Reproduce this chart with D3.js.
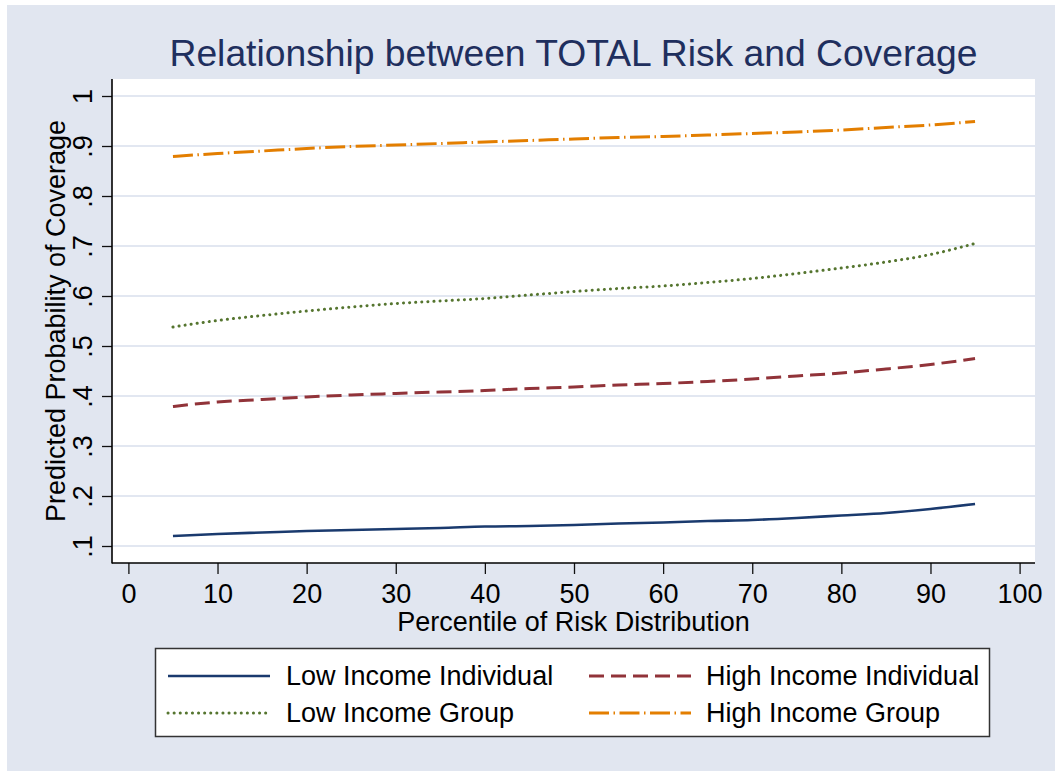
<!DOCTYPE html>
<html>
<head>
<meta charset="utf-8">
<script src="https://cdn.jsdelivr.net/npm/d3@7"></script>
<style>
  html, body { margin: 0; padding: 0; background: #ffffff; }
  svg { display: block; font-family: "Liberation Sans", Arial, sans-serif; }
</style>
</head>
<body>
<svg id="chart" width="1055" height="771"></svg>
<script>
// Percentile of the risk distribution at which predictions were made
const percentiles = [5, 10, 15, 20, 25, 30, 35, 40, 45, 50, 55, 60, 65, 70, 75, 80, 85, 90, 95];

// Predicted probability of coverage for each income / purchase type
const lowIncomeIndividual  = [0.120, 0.124, 0.127, 0.130, 0.132, 0.134, 0.136, 0.139, 0.140, 0.142, 0.145, 0.147, 0.150, 0.152, 0.156, 0.161, 0.166, 0.174, 0.184];
const highIncomeIndividual = [0.379, 0.388, 0.393, 0.398, 0.402, 0.405, 0.408, 0.411, 0.415, 0.418, 0.422, 0.425, 0.429, 0.434, 0.440, 0.446, 0.454, 0.463, 0.475];
const lowIncomeGroup       = [0.538, 0.551, 0.561, 0.570, 0.578, 0.585, 0.590, 0.595, 0.602, 0.609, 0.615, 0.620, 0.627, 0.635, 0.645, 0.656, 0.668, 0.683, 0.705];
const highIncomeGroup      = [0.879, 0.885, 0.890, 0.895, 0.899, 0.902, 0.905, 0.908, 0.911, 0.914, 0.917, 0.919, 0.922, 0.925, 0.928, 0.932, 0.937, 0.942, 0.949];

const seriesNames = ["Low Income Individual", "High Income Individual", "Low Income Group", "High Income Group"];

// Axis ticks
const xTicks = [0, 10, 20, 30, 40, 50, 60, 70, 80, 90, 100];
const yTicks = [0.1, 0.2, 0.3, 0.4, 0.5, 0.6, 0.7, 0.8, 0.9, 1];
const yTickLabels = [".1", ".2", ".3", ".4", ".5", ".6", ".7", ".8", ".9", "1"];

const titleText = "Relationship between TOTAL Risk and Coverage";
const xTitle = "Percentile of Risk Distribution";
const yTitle = "Predicted Probability of Coverage";

// Line styling per series (Stata s2color-like palette)
const styles = [
  { color: "#1a3a6e", width: 2.6, dash: null,        cap: "butt"  },
  { color: "#913339", width: 3,   dash: "15 7",      cap: "butt"  },
  { color: "#55752f", width: 3,   dash: "0.1 6",     cap: "round" },
  { color: "#e37e00", width: 3,   dash: "20 4.5 1.5 4.5", cap: "butt" }
];

const FONT = 27;

const svg = d3.select("#chart");

// Outer graph region
svg.append("rect")
  .attr("x", 7).attr("y", 5).attr("width", 1048).attr("height", 766)
  .attr("fill", "#e1e6f0");

// Plot region bounds
const plot = { left: 112, top: 79, right: 1035, bottom: 563 };

svg.append("rect")
  .attr("x", plot.left).attr("y", plot.top)
  .attr("width", plot.right - plot.left).attr("height", plot.bottom - plot.top)
  .attr("fill", "#ffffff");

const x = d3.scaleLinear().domain([0, 100]).range([128.4, 1019.6]);
const y = d3.scaleLinear().domain([0.1, 1]).range([546, 96]);

// Horizontal grid lines
svg.append("g")
  .selectAll("line")
  .data(yTicks)
  .join("line")
  .attr("x1", plot.left).attr("x2", plot.right)
  .attr("y1", d => y(d)).attr("y2", d => y(d))
  .attr("stroke", "#e2e7f1").attr("stroke-width", 2.2);

// Y axis
const yAxis = svg.append("g")
  .attr("transform", `translate(${plot.left},0)`)
  .call(d3.axisLeft(y).tickValues(yTicks).tickSize(10).tickPadding(0)
    .tickFormat((d, i) => yTickLabels[i]));
yAxis.select(".domain").remove();
yAxis.selectAll(".tick line").attr("stroke", "#111").attr("stroke-width", 1.3);
yAxis.selectAll(".tick text")
  .attr("x", null).attr("dy", null)
  .attr("transform", "translate(-20,0) rotate(-90)")
  .attr("text-anchor", "middle")
  .attr("font-size", FONT)
  .attr("fill", "#000");

// X axis
const xAxis = svg.append("g")
  .attr("transform", `translate(0,${plot.bottom})`)
  .call(d3.axisBottom(x).tickValues(xTicks).tickSize(11).tickPadding(0)
    .tickFormat(d3.format("d")));
xAxis.select(".domain").remove();
xAxis.selectAll(".tick line").attr("stroke", "#111").attr("stroke-width", 1.3);
xAxis.selectAll(".tick text")
  .attr("y", 40).attr("dy", null)
  .attr("font-size", FONT)
  .attr("fill", "#000");

// Axis lines
svg.append("line")
  .attr("x1", plot.left).attr("x2", plot.left)
  .attr("y1", plot.top).attr("y2", plot.bottom + 0.5)
  .attr("stroke", "#000").attr("stroke-width", 1.6);
svg.append("line")
  .attr("x1", plot.left).attr("x2", plot.right)
  .attr("y1", plot.bottom).attr("y2", plot.bottom)
  .attr("stroke", "#000").attr("stroke-width", 1.6);

// Series lines
const allSeries = [lowIncomeIndividual, highIncomeIndividual, lowIncomeGroup, highIncomeGroup];
const line = d3.line()
  .x((d, i) => x(percentiles[i]))
  .y(d => y(d))
  .curve(d3.curveMonotoneX);

svg.append("g")
  .selectAll("path")
  .data(allSeries)
  .join("path")
  .attr("d", d => line(d))
  .attr("fill", "none")
  .attr("stroke", (d, i) => styles[i].color)
  .attr("stroke-width", (d, i) => styles[i].width)
  .attr("stroke-dasharray", (d, i) => styles[i].dash)
  .attr("stroke-linecap", (d, i) => styles[i].cap);

// Titles
const cx = (plot.left + plot.right) / 2;
svg.append("text")
  .attr("x", cx).attr("y", 66)
  .attr("text-anchor", "middle")
  .attr("font-size", 37)
  .attr("textLength", 808).attr("lengthAdjust", "spacingAndGlyphs")
  .attr("fill", "#1f2f5e")
  .text(titleText);

svg.append("text")
  .attr("x", cx).attr("y", 631)
  .attr("text-anchor", "middle")
  .attr("font-size", FONT)
  .attr("fill", "#000")
  .text(xTitle);

svg.append("text")
  .attr("transform", `translate(65,${(plot.top + plot.bottom) / 2}) rotate(-90)`)
  .attr("text-anchor", "middle")
  .attr("font-size", FONT)
  .attr("fill", "#000")
  .text(yTitle);

// Legend
const legend = svg.append("g");
legend.append("rect")
  .attr("x", 155.5).attr("y", 648.5).attr("width", 834).attr("height", 88)
  .attr("fill", "#ffffff").attr("stroke", "#333").attr("stroke-width", 1.5);

const legendPos = [
  { sx: 168, tx: 286, cy: 676 },
  { sx: 589, tx: 706, cy: 676 },
  { sx: 168, tx: 286, cy: 713 },
  { sx: 589, tx: 706, cy: 713 }
];

const items = legend.selectAll("g.item")
  .data(seriesNames)
  .join("g").attr("class", "item");

items.append("line")
  .attr("x1", (d, i) => legendPos[i].sx)
  .attr("x2", (d, i) => legendPos[i].sx + 102)
  .attr("y1", (d, i) => legendPos[i].cy)
  .attr("y2", (d, i) => legendPos[i].cy)
  .attr("stroke", (d, i) => styles[i].color)
  .attr("stroke-width", (d, i) => styles[i].width)
  .attr("stroke-dasharray", (d, i) => styles[i].dash)
  .attr("stroke-linecap", (d, i) => styles[i].cap);

items.append("text")
  .attr("x", (d, i) => legendPos[i].tx)
  .attr("y", (d, i) => legendPos[i].cy + 9)
  .attr("font-size", FONT)
  .attr("fill", "#000")
  .text(d => d);
</script>
</body>
</html>
